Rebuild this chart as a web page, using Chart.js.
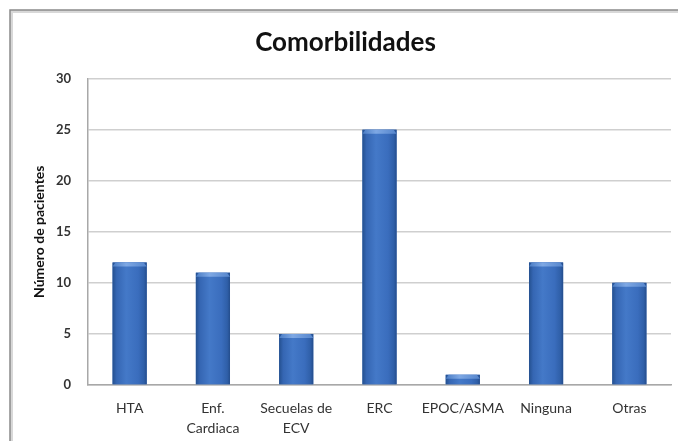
<!DOCTYPE html>
<html><head><meta charset="utf-8">
<script src="https://cdn.jsdelivr.net/npm/chart.js@4/dist/chart.umd.min.js"></script>
<style>html,body{margin:0;padding:0;background:#fff;}#wrap{width:678px;height:441px;position:relative;}</style>
</head><body><div id="wrap"><canvas id="c" width="678" height="441"></canvas></div>
<script>
const categories = [["HTA"], ["Enf.", "Cardiaca"], ["Secuelas de", "ECV"], ["ERC"], ["EPOC/ASMA"], ["Ninguna"], ["Otras"]];
const pacientes = [12, 11, 5, 25, 1, 12, 10];
const yTicks = [0, 5, 10, 15, 20, 25, 30];
const FONT = "Lato, 'Open Sans', sans-serif";

const framePlugin = {
  id: 'frame',
  beforeDraw(chart) {
    const c = chart.ctx;
    c.save();
    c.fillStyle = '#fff';
    c.fillRect(0, 0, chart.width, chart.height);
    c.strokeStyle = '#d8d8d8'; c.lineWidth = 3;
    c.beginPath(); c.moveTo(11.5, chart.height); c.lineTo(11.5, 11.5); c.lineTo(chart.width, 11.5); c.stroke();
    c.strokeStyle = '#8a8a8a'; c.lineWidth = 1.5;
    c.beginPath(); c.moveTo(10, chart.height); c.lineTo(10, 10); c.lineTo(chart.width, 10); c.stroke();
    c.restore();
  }
};

const barShade = {
  id: 'barShade',
  afterDatasetsDraw(chart) {
    const c = chart.ctx;
    const meta = chart.getDatasetMeta(0);
    c.save();
    meta.data.forEach(el => {
      const l = el.x - el.width / 2, r = el.x + el.width / 2;
      const top = el.y, bot = el.base;
      const g = c.createLinearGradient(l, 0, r, 0);
      g.addColorStop(0, '#24508f');
      g.addColorStop(0.12, '#3566b3');
      g.addColorStop(0.4, '#4479c8');
      g.addColorStop(0.75, '#3a6dbd');
      g.addColorStop(0.92, '#2f5fa8');
      g.addColorStop(1, '#244d8c');
      c.fillStyle = g;
      c.fillRect(l, top, r - l, bot - top);
      const capH = Math.min(4, bot - top);
      const g2 = c.createLinearGradient(l, 0, r, 0);
      g2.addColorStop(0, '#4a7cc4');
      g2.addColorStop(0.4, '#7ea8e4');
      g2.addColorStop(1, '#5585cc');
      c.fillStyle = g2;
      c.beginPath();
      c.moveTo(l, top + capH); c.lineTo(l + 3, top); c.lineTo(r - 3, top); c.lineTo(r, top + capH); c.closePath();
      c.fill();
    });
    c.restore();
  }
};

new Chart(document.getElementById('c'), {
  type: 'bar',
  data: {
    labels: categories,
    datasets: [{
      data: pacientes,
      backgroundColor: '#3a6cbc',
      borderWidth: 0,
      categoryPercentage: 1,
      barPercentage: 0.41
    }]
  },
  options: {
    responsive: false,
    animation: false,
    layout: { padding: { top: 10, left: 20, right: 7, bottom: 0 } },
    plugins: {
      legend: { display: false },
      tooltip: { enabled: false },
      title: {
        display: true,
        text: 'Comorbilidades',
        color: '#111',
        font: { family: FONT, size: 26, weight: 'bold', lineHeight: 1.1 },
        padding: { top: 18, bottom: 22 }
      }
    },
    scales: {
      x: {
        grid: { display: false, drawTicks: false },
        border: { display: true, color: '#a8a8a8', width: 1.5 },
        ticks: { color: '#333', font: { family: FONT, size: 14, lineHeight: 1.45 }, padding: 13, maxRotation: 0, autoSkip: false },
        afterFit(s) { s.height = 56; }
      },
      y: {
        min: 0, max: 30,
        afterBuildTicks(s) { s.ticks = yTicks.map(v => ({ value: v })); },
        grid: { color: '#cfcfcf', lineWidth: 1.5, drawTicks: false },
        border: { display: true, color: '#a8a8a8', width: 1.5 },
        ticks: { color: '#333', font: { family: FONT, size: 13, weight: 'bold' }, padding: 17 },
        title: {
          display: true, text: 'Número de pacientes', color: '#111',
          font: { family: FONT, size: 14, weight: 'bold' },
          padding: { top: 11, bottom: 4 }
        },
        afterFit(s) { s.width = 68; }
      }
    }
  },
  plugins: [framePlugin, barShade]
});
</script></body></html>
